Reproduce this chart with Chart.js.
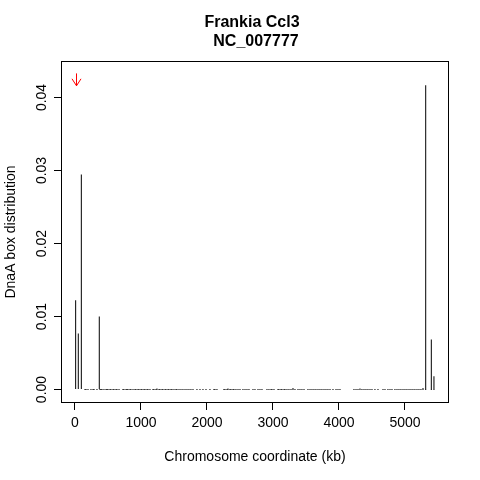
<!DOCTYPE html>
<html>
<head>
<meta charset="utf-8">
<script src="https://cdn.jsdelivr.net/npm/chart.js@4/dist/chart.umd.min.js"></script>
<style>
  html, body { margin: 0; padding: 0; background: #fff; }
  canvas { display: block; }
</style>
</head>
<body>
<canvas id="dnaaChart" width="480" height="480"></canvas>
<script>
// Chart data (kb positions, DnaA box distribution values)
const titleLines = ['Frankia Ccl3', 'NC_007777'];
const spikeKb = [10, 50, 96, 368, 5314, 5399, 5439];
const spikeVal = [0.01223, 0.00767, 0.02945, 0.0100, 0.04168, 0.00685, 0.00183];
const smallKb = [1242, 2318, 3303, 4318, 5273];
const smallVal = [0.00015, 0.00015, 0.0002, 0.00015, 0.0002];
const zeroKb = [
    152, 167, 197, 242, 273, 288, 333, 379, 394, 409, 439, 470, 485, 500, 530, 545, 576, 591, 621, 636, 667,
    727, 742, 773, 788, 803, 833, 848, 879, 909, 924, 954, 970, 1000, 1015, 1045, 1061, 1091, 1106, 1136,
    1182, 1197, 1227, 1242, 1273, 1288, 1318, 1333, 1364, 1379, 1409, 1424, 1454, 1470, 1500, 1530, 1545,
    1576, 1606, 1636, 1667, 1697, 1727, 1757, 1788,
    1848, 1894, 1939, 1985, 2045,
    2106, 2121, 2151,
    2257, 2273, 2303, 2318, 2348, 2364, 2394, 2409, 2439, 2470, 2500,
    2545, 2576, 2606, 2636, 2697, 2727, 2773, 2803, 2833,
    2909, 2939, 2970, 2985, 3015,
    3076, 3091, 3121, 3136, 3167, 3182, 3212, 3242, 3273, 3303, 3333,
    3379, 3409, 3439, 3470,
    3530, 3561, 3591, 3621, 3651, 3682, 3712, 3742, 3773, 3803, 3833, 3864, 3909, 3955, 3985, 4015,
    4227, 4258, 4288, 4318, 4348, 4379, 4409, 4439, 4470, 4500, 4545, 4591,
    4667, 4697, 4742, 4773, 4803,
    4848, 4879, 4909, 4939, 4970, 5000, 5030, 5061, 5091, 5121, 5151, 5182, 5212, 5242, 5273, 5314, 5399, 5439
];
const xTicks = [0, 1000, 2000, 3000, 4000, 5000];
const yTicks = [0, 0.01, 0.02, 0.03, 0.04];
const yTickLabels = ['0.00', '0.01', '0.02', '0.03', '0.04'];
const arrowKb = 10;
const arrowFrom = 0.0433;
const arrowTo = 0.0416;

const FONT = "'Liberation Sans', Arial, sans-serif";

const spikeData = spikeKb.map((x, i) => ({ x: x, y: spikeVal[i] }))
    .concat(smallKb.map((x, i) => ({ x: x, y: smallVal[i] })));
const zeroData = zeroKb.map(x => ({ x: x, y: 0 }));

// R-like frame, title, rotated y labels and the red arrow
const decorations = {
    id: 'decorations',
    beforeDraw(chart) {
        const ctx = chart.ctx;
        ctx.save();
        ctx.fillStyle = '#fff';
        ctx.fillRect(0, 0, chart.width, chart.height);
        ctx.restore();
    },
    afterDraw(chart) {
        const ctx = chart.ctx;
        const ca = chart.chartArea;
        const xs = chart.scales.x;
        const ys = chart.scales.y;
        ctx.save();

        ctx.strokeStyle = '#000';
        ctx.lineWidth = 1;
        ctx.strokeRect(ca.left + 0.5, ca.top + 0.5, ca.right - ca.left - 1, ca.bottom - ca.top - 1);

        ctx.fillStyle = '#000';
        ctx.font = 'bold 16px ' + FONT;
        ctx.textAlign = 'center';
        ctx.textBaseline = 'alphabetic';
        ctx.fillText(titleLines[0], 252, 27);
        ctx.fillText(titleLines[1], 256, 46);

        ctx.font = '14px ' + FONT;
        yTicks.forEach((v, i) => {
            const py = ys.getPixelForValue(v);
            ctx.save();
            ctx.translate(46, py);
            ctx.rotate(-Math.PI / 2);
            ctx.fillText(yTickLabels[i], 0, 0);
            ctx.restore();
        });

        const ax = Math.round(xs.getPixelForValue(arrowKb)) + 0.5;
        const y0 = ys.getPixelForValue(arrowFrom);
        const y1 = ys.getPixelForValue(arrowTo);
        ctx.strokeStyle = '#ff0000';
        ctx.beginPath();
        ctx.moveTo(ax, y0);
        ctx.lineTo(ax, y1);
        ctx.moveTo(ax - 4.5, y1 - 7);
        ctx.lineTo(ax, y1);
        ctx.lineTo(ax + 4.5, y1 - 7);
        ctx.stroke();
        ctx.restore();
    }
};

new Chart(document.getElementById('dnaaChart').getContext('2d'), {
    type: 'bar',
    data: {
        datasets: [{
            type: 'bar',
            data: spikeData,
            backgroundColor: '#000',
            borderWidth: 0,
            inflateAmount: 0,
            barThickness: 1
        }, {
            type: 'scatter',
            data: zeroData,
            showLine: false,
            pointStyle: 'rect',
            pointRadius: 0.75,
            pointBorderWidth: 0,
            backgroundColor: '#000',
            borderColor: '#000'
        }]
    },
    options: {
        responsive: false,
        animation: false,
        events: [],
        layout: { padding: { top: 61, right: 31, bottom: 0, left: 0 } },
        plugins: { legend: { display: false }, title: { display: false }, tooltip: { enabled: false } },
        scales: {
            x: {
                type: 'linear',
                min: -212,
                max: 5667,
                offset: false,
                afterBuildTicks: s => { s.ticks = xTicks.map(v => ({ value: v })); },
                afterFit: s => { s.height = 77; },
                grid: { display: true, offset: false, drawOnChartArea: false, drawTicks: true, tickLength: 7, color: '#000' },
                border: { display: false },
                ticks: {
                    color: '#000',
                    font: { family: FONT, size: 14 },
                    padding: 5,
                    maxRotation: 0,
                    autoSkip: false,
                    callback: v => String(v)
                },
                title: {
                    display: true,
                    text: 'Chromosome coordinate (kb)',
                    color: '#000',
                    font: { family: FONT, size: 14 },
                    padding: { top: 0, bottom: 14 }
                }
            },
            y: {
                type: 'linear',
                min: -0.001849,
                max: 0.045,
                afterBuildTicks: s => { s.ticks = yTicks.map(v => ({ value: v })); },
                afterFit: s => { s.width = 61; },
                grid: { display: true, drawOnChartArea: false, drawTicks: true, tickLength: 7, color: '#000' },
                border: { display: false },
                ticks: { display: false },
                title: {
                    display: true,
                    text: 'DnaA box distribution',
                    color: '#000',
                    font: { family: FONT, size: 14 },
                    padding: { top: 3, bottom: 0 }
                }
            }
        }
    },
    plugins: [decorations]
});
</script>
</body>
</html>
